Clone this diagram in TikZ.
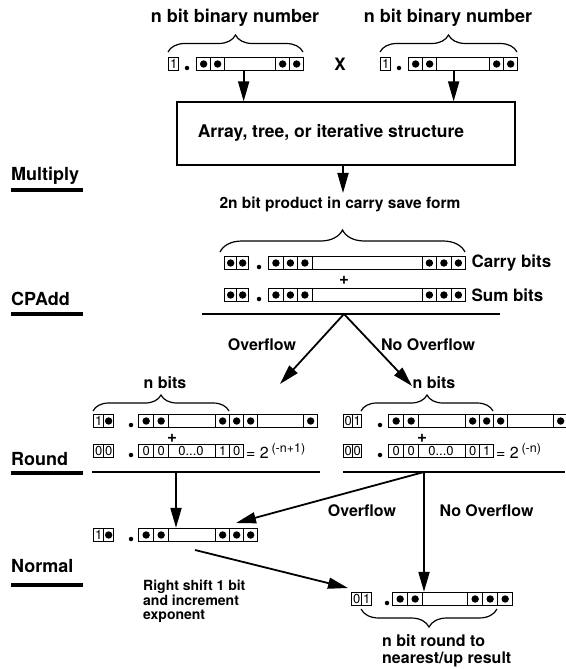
\documentclass[tikz,border=0pt]{standalone}
\usepackage{fontspec}
\setmainfont{TeX Gyre Heros}
\usetikzlibrary{arrows.meta,decorations.pathreplacing}

\tikzset{
  bitbox/.style={draw, line width=1.3pt, minimum width=10pt, minimum height=13pt,
    inner sep=0pt, anchor=west, font=\fontsize{13}{13}\selectfont},
  dotbox/.style={bitbox, minimum width=14pt,
    path picture={\fill (path picture bounding box.center) circle (3.7pt);}},
  fracbox/.style={draw, line width=1.3pt, minimum height=13pt, inner sep=0pt, anchor=west},
  radix/.style={circle, fill, inner sep=0pt, minimum size=4.5pt},
  txt/.style={font=\bfseries\fontsize{#1}{#1}\selectfont},
  txt/.default=16,
  small/.style={font=\bfseries\fontsize{14}{14.5}\selectfont},
  stage/.style={anchor=west, inner sep=0pt, font=\bfseries\fontsize{18}{20}\selectfont},
  stageline/.style={line width=3.6pt},
  sumline/.style={line width=1.8pt},
  arr/.style={line width=1.8pt, -{Triangle[length=20pt,width=11pt]}},
  nbrace/.style={decorate, decoration={brace, amplitude=#1}, line width=1.2pt},
}

\begin{document}
\begin{tikzpicture}[x=1pt,y=-1pt]
\useasboundingbox (0,0) rectangle (565,669);

% stage labels
\node[stage] (mul) at (11,176) {Multiply};
\draw[stageline] (11,190) -- (83,190);
\node[stage] (cpa) at (11,299) {CPAdd};
\draw[stageline] (11,314) -- (83,314);
\node[stage] (rnd) at (11,459) {Round};
\draw[stageline] (11,473) -- (83,473);
\node[stage] (nrm) at (11,566) {Normal};
\draw[stageline] (11,585) -- (83,585);

% operands
\node[txt=18] (na) at (235,18) {n bit binary number};
\node[txt=18] (nb) at (448,18) {n bit binary number};
\draw[nbrace=17pt] (168,52) -- (303,52);
\draw[nbrace=17pt] (380,52) -- (517,52);
\node[bitbox] (a0) at (168,64) {1};
\node[radix] (ap) at (187,68) {};
\node[fracbox, minimum width=107pt] (aF) at (196,64) {};
\foreach \x [count=\i] in {196,210,275,289}
  \node[dotbox] (a\i) at (\x,64) {};
\node[txt=17] (times) at (340,64) {X};
\node[bitbox] (b0) at (380,64) {1};
\node[radix] (bp) at (399,68) {};
\node[fracbox, minimum width=109pt] (bF) at (408,64) {};
\foreach \x [count=\i] in {408,422,489,503}
  \node[dotbox] (b\i) at (\x,64) {};

% multiplier
\node[draw, line width=1.2pt, minimum width=338pt, minimum height=63pt] (core) at (346,133.5) {};
\node[txt=17.5] (coretxt) at (331,133) {Array, tree, or iterative structure};
\draw[arr] ([xshift=-6.5pt]aF.south) -- ([xshift=-6.5pt]aF.south |- core.north);
\draw[arr] ([xshift=-9.5pt]bF.south) -- ([xshift=-9.5pt]bF.south |- core.north);
\node[txt=15.5] (prod) at (340,204) {2n bit product in carry save form};
\draw[arr] ([xshift=-3pt]core.south) -- ([xshift=-3pt]core.south |- prod.north);

% carry save form
\draw[nbrace=22pt] (220,252) -- (465,252);
\foreach \y/\n in {263/c,295/s} {
  \node[dotbox, minimum width=12pt] (\n1) at (224,\y) {};
  \node[dotbox, minimum width=12pt] (\n2) at (236,\y) {};
  \node[radix] (\n p) at (259,\y+4) {};
  \node[fracbox, minimum width=197pt] (\n F) at (268,\y) {};
  \foreach \x [count=\i from 3] in {268,282.5,297,421.5,436,450.5}
    \node[dotbox, minimum width=14.5pt] (\n\i) at (\x,\y) {};
}
\node[txt=17, anchor=west] (carry) at (468,263) {Carry bits};
\node[txt=17, anchor=west] (sum) at (468,295) {Sum bits};
\node[txt=17] (plus1) at (344,280) {+};
\draw[sumline] (202,314) -- (500,314);
\coordinate (split) at (344,314);

\node[txt] (ovf) at (262,345) {Overflow};
\node[txt] (novf) at (428,345) {No Overflow};
\coordinate (tipL) at (280,384);
\coordinate (tipR) at (412,386);
\draw[arr] (split) -- (tipL);
\draw[arr] (split) -- (tipR);

% round, overflow side
\node[txt] (nbl) at (165,383) {n bits};
\draw[nbrace=16pt] (93,411) -- (229,411);
\node[bitbox] (e1) at (93,421) {1};
\node[dotbox, minimum width=10pt] (e2) at (103,421) {};
\node[radix] (ep) at (131,425) {};
\node[fracbox, minimum width=179pt] (eF) at (138,421) {};
\foreach \x/\w [count=\i from 3] in {138/15,153/15,215/14,229/14,243/14,303/14}
  \node[dotbox, minimum width=\w pt] (e\i) at (\x,421) {};
\node[txt=17] (plus2) at (172,438) {+};
\node[bitbox] (f1) at (93,451) {0};
\node[bitbox] (f2) at (103,451) {0};
\node[radix] (fp) at (131,455) {};
\node[fracbox, minimum width=105pt] (fF) at (138,451) {};
\foreach \x/\w/\d [count=\i from 3] in {138/15/0,153/15/0,215/14/1,229/14/0}
  \node[bitbox, minimum width=\w pt] (f\i) at (\x,451) {\d};
\node[font=\fontsize{13}{13}\selectfont] (fdots) at (191,451) {0...0};
\node[anchor=west, inner sep=1pt] (fval) at (245,451)
  {\fontsize{16}{16}\selectfont = 2\,\raisebox{6.5pt}{\fontsize{12.5}{12.5}\selectfont (-n+1)}};
\draw[sumline] (92,472) -- (320,472);

% round, no overflow side
\node[txt] (nbr) at (434,383) {n bits};
\draw[nbrace=16pt] (361,411) -- (493,411);
\node[bitbox, minimum width=9pt] (g1) at (343,421) {0};
\node[bitbox, minimum width=9pt] (g2) at (352,421) {1};
\node[radix] (gp) at (380,425) {};
\node[fracbox, minimum width=190pt] (gF) at (388,421) {};
\foreach \x/\w [count=\i from 3] in {388/15,403/15,465/14,479/14,493/14,553/14}
  \node[dotbox, minimum width=\w pt] (g\i) at (\x,421) {};
\node[txt=17] (plus3) at (422,438) {+};
\node[bitbox, minimum width=9pt] (h1) at (343,451) {0};
\node[bitbox, minimum width=9pt] (h2) at (352,451) {0};
\node[radix] (hp) at (380,455) {};
\node[fracbox, minimum width=105pt] (hF) at (388,451) {};
\foreach \x/\w/\d [count=\i from 3] in {388/15/0,403/15/0,465/14/0,479/14/1}
  \node[bitbox, minimum width=\w pt] (h\i) at (\x,451) {\d};
\node[font=\fontsize{13}{13}\selectfont] (hdots) at (441,451) {0...0};
\node[anchor=west, inner sep=1pt] (hval) at (495,451)
  {\fontsize{16}{16}\selectfont = 2\,\raisebox{6.5pt}{\fontsize{12.5}{12.5}\selectfont (-n)}};
\draw[sumline] (343,472) -- (565,472);
\coordinate (lsplit) at (176,472);
\coordinate (rsplit) at (424,472);

% normalize
\node[bitbox] (k1) at (93,535) {1};
\node[dotbox, minimum width=10pt] (k2) at (103,535) {};
\node[radix] (kp) at (131,539) {};
\node[fracbox, minimum width=119pt] (kF) at (138,535) {};
\foreach \x/\w [count=\i from 3] in {138/15,153/15,215/14,229/14,243/14}
  \node[dotbox, minimum width=\w pt] (k\i) at (\x,535) {};
\coordinate (tipK) at (236,523);
\draw[arr] (lsplit) -- (lsplit |- kF.north);
\draw[arr] (rsplit) -- (tipK);
\node[txt] (ovf2) at (362,511) {Overflow};
\node[txt, anchor=west] (novf2) at (436,511) {No Overflow};

\node[bitbox] (m1) at (351,599) {0};
\node[bitbox] (m2) at (361,599) {1};
\node[radix] (mp) at (387,603) {};
\node[fracbox, minimum width=120pt] (mF) at (392,599) {};
\foreach \x [count=\i from 3] in {392,407,467,482,497}
  \node[dotbox, minimum width=15pt] (m\i) at (\x,599) {};
\draw[arr] (rsplit) -- (rsplit |- mF.north);
\coordinate (shiftA) at (195,550);
\coordinate (shiftB) at (348,588);
\draw[arr] (shiftA) -- (shiftB);
\node[small, anchor=north west, align=left, inner sep=0pt] (shift) at (143,580)
  {Right shift 1 bit\\and increment\\exponent};
\draw[nbrace=18pt] (497,609) -- (361,609);
\node[txt, anchor=north west, align=left, inner sep=0pt] (result) at (382,634)
  {n bit round to\\[1pt]nearest/up result};
\end{tikzpicture}
\end{document}
